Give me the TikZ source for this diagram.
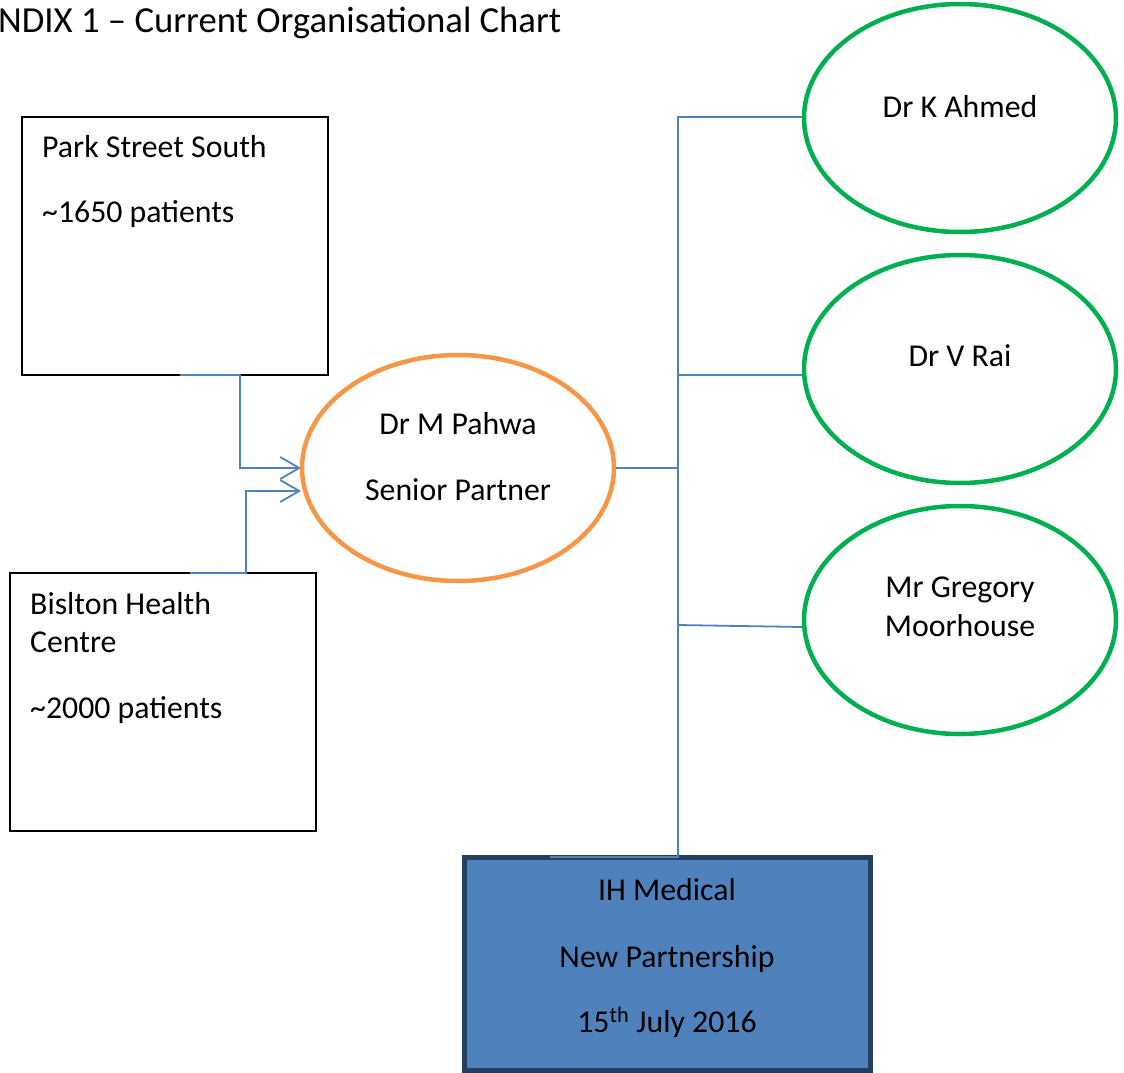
\documentclass[tikz,border=0pt]{standalone}
\usepackage{fontspec}
\setmainfont{Carlito}
\usetikzlibrary{shapes.geometric,arrows.meta}
\definecolor{linkblue}{HTML}{4F81BD}
\definecolor{boxfill}{HTML}{4F81BD}
\definecolor{boxedge}{HTML}{243F60}
\definecolor{orangeline}{HTML}{F79646}
\definecolor{greenline}{HTML}{00B050}
\begin{document}
\begin{tikzpicture}[x=1pt,y=-1pt,
  txt/.style={font=\fontsize{31.8}{39}\selectfont, inner sep=0pt},
  sitebox/.style={draw=black, line width=1.3pt, fill=none},
  partner/.style={ellipse, draw=greenline, line width=4.5pt, minimum width=312pt, minimum height=228pt, inner sep=0pt},
  senior/.style={ellipse, draw=orangeline, line width=4.5pt, minimum width=312pt, minimum height=226pt, inner sep=0pt},
  link/.style={draw=linkblue, line width=1.8pt},
  arr/.style={link, -{Straight Barb[length=19pt,width=22pt,line width=1.8pt]}}
]
\useasboundingbox (0,0) rectangle (1124,1073);
% title
\node[font=\fontsize{36.7}{44}\selectfont, inner sep=0pt, anchor=base west] (title) at (-2,33) {NDIX 1 – Current Organisational Chart};

% site boxes
\draw[sitebox] (22,117) rectangle (328,375);
\node[txt, anchor=base west] (ps1) at (42,157) {Park Street South};
\node[txt, anchor=base west] (ps2) at (42,222) {\textasciitilde1650 patients};

\draw[sitebox] (10,573) rectangle (316,831);
\node[txt, anchor=base west] (bh1) at (30,614) {Bislton Health};
\node[txt, anchor=base west] (bh2) at (30,652) {Centre};
\node[txt, anchor=base west] (bh3) at (30,718) {\textasciitilde2000 patients};

% senior partner
\node[senior] (pahwa) at (458,468) {};
\node[txt, anchor=base] (pw1) at (458,434) {Dr M Pahwa};
\node[txt, anchor=base] (pw2) at (458,500) {Senior Partner};

% partners
\node[partner] (ahmed) at (960,118) {};
\node[txt, anchor=base] (ah) at (960,117) {Dr K Ahmed};
\node[partner] (rai) at (960,369) {};
\node[txt, anchor=base] (ra) at (960,366) {Dr V Rai};
\node[partner] (moor) at (960,620) {};
\node[txt, anchor=base] (mo1) at (960,597) {Mr Gregory};
\node[txt, anchor=base] (mo2) at (960,636) {Moorhouse};

% IH Medical box
\node[draw=boxedge, fill=boxfill, line width=5pt, outer sep=0pt, minimum width=406pt, minimum height=213pt, inner sep=0pt, anchor=north west] (ih) at (464.5,857.5) {};
\node[txt, anchor=base] (ih1) at (667,900) {IH Medical};
\node[txt, anchor=base] (ih2) at (667,967) {New Partnership};
\node[txt, anchor=base] (ih3) at (667,1032) {15\textsuperscript{th} July 2016};

% connectors
\coordinate (psout) at (180,375);
\coordinate (bhout) at (190,573);
\coordinate (pahin1) at (301,468);
\coordinate (pahin2) at (301,491);
\draw[arr] (psout) -- (240,375) -- (240,468) -- (pahin1);
\draw[arr] (bhout) -- (246,573) -- (246,491) -- (pahin2);

\coordinate (trunktop) at (678,117);
\coordinate (trunkbot) at (678,857);
\coordinate (ihtop) at (550,857);
\draw[link] (pahwa.east) -- (678,468);
\draw[link] (ahmed.west |- trunktop) -- (trunktop) -- (trunkbot) -- (ihtop);
\draw[link] (678,375) -- (rai.west |- 0,375);
\draw[link] (678,625) -- (moor.west |- 0,627);
\end{tikzpicture}
\end{document}
